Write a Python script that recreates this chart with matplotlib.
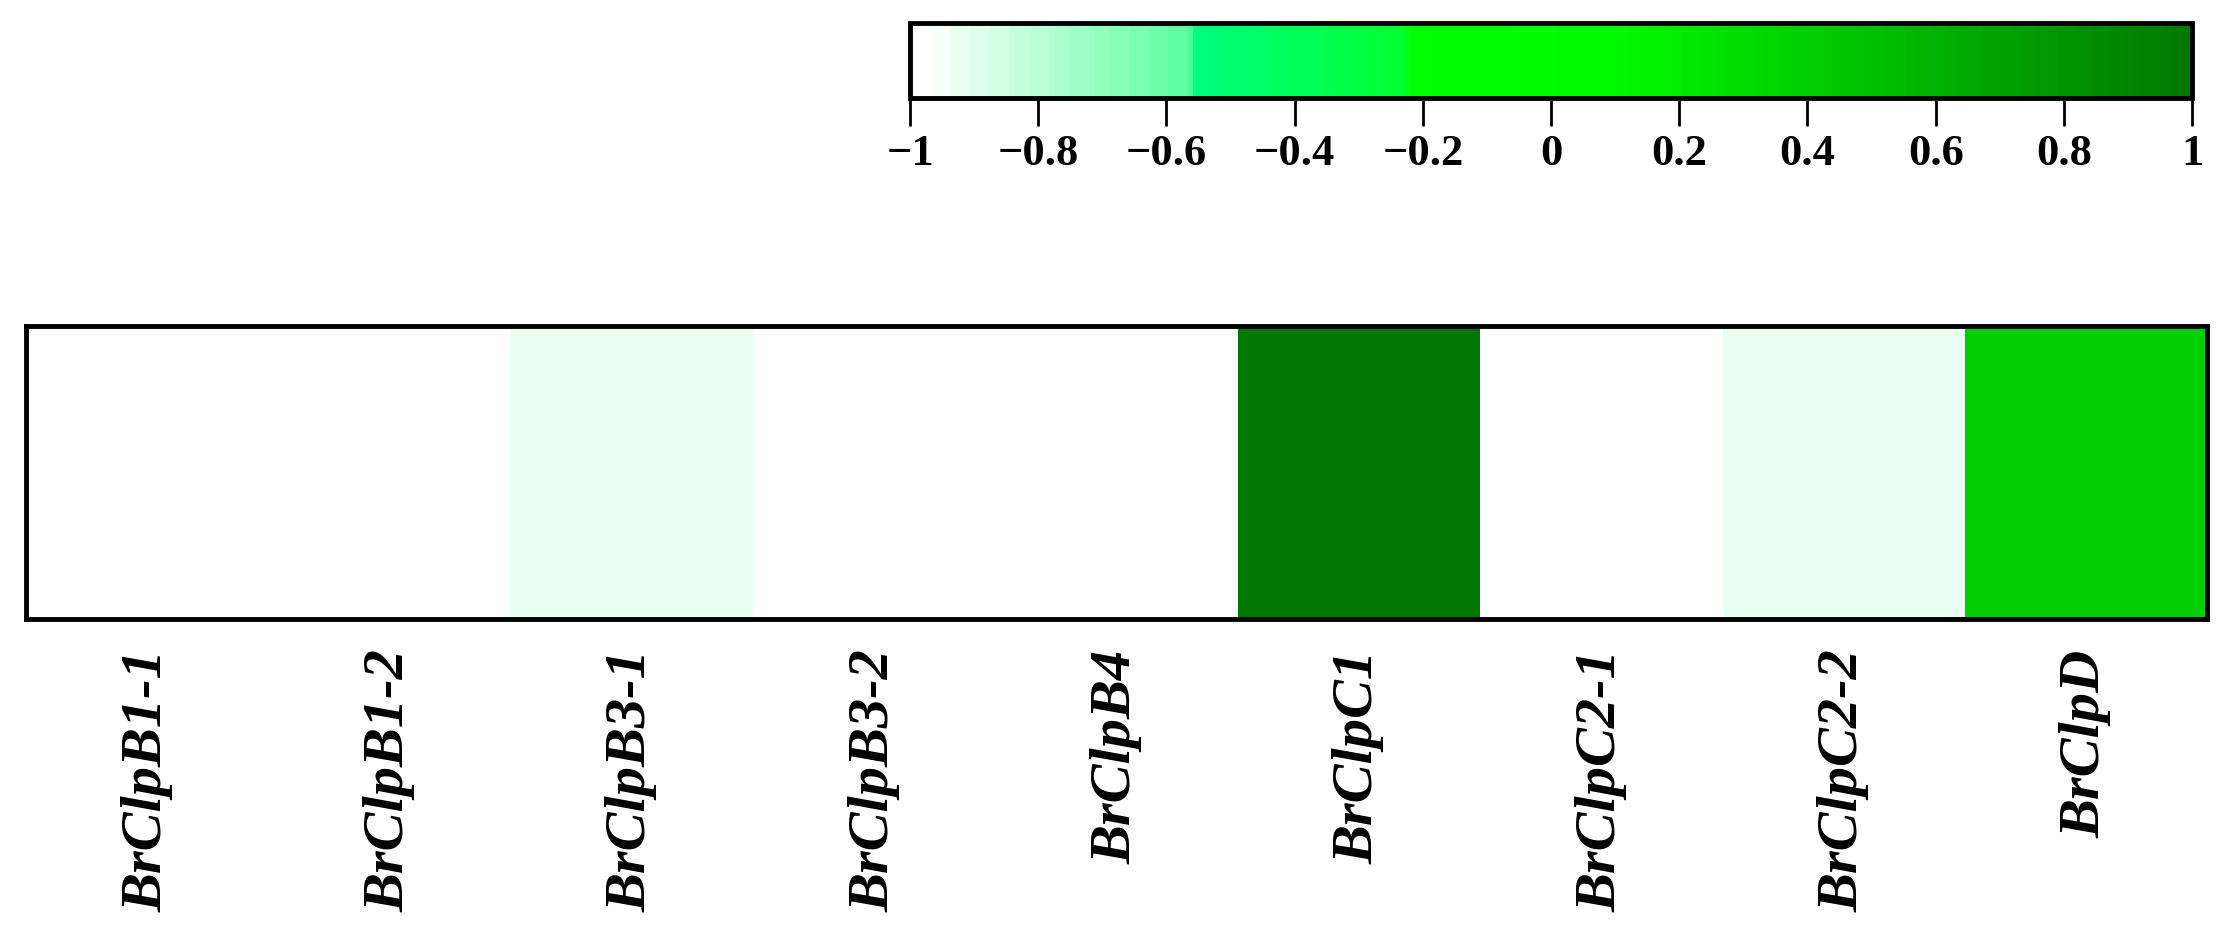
import numpy as np
import matplotlib.pyplot as plt
from matplotlib.colors import LinearSegmentedColormap, ListedColormap, Normalize

# genes and correlation values
genes = ['BrClpB1-1', 'BrClpB1-2', 'BrClpB3-1', 'BrClpB3-2', 'BrClpB4',
         'BrClpC1', 'BrClpC2-1', 'BrClpC2-2', 'BrClpD']
values = [-1.0, -1.0, -0.93, -1.0, -1.0, 1.0, -1.0, -0.93, 0.4]
cbar_ticks = [-1, -0.8, -0.6, -0.4, -0.2, 0, 0.2, 0.4, 0.6, 0.8, 1]

# colour stops of the scale (value, colour)
stops = [(-1.0, '#ffffff'), (-0.57, '#55ff9a'), (-0.56, '#00ff80'),
         (-0.23, '#00ff30'), (-0.22, '#00ff00'), (0.1, '#00fa00'),
         (1.0, '#007800')]

base = LinearSegmentedColormap.from_list(
    'grn', [((v + 1) / 2, c) for v, c in stops])

# the light end of the scale is drawn in steps
xs = np.linspace(-1, 1, 512)
q = np.where(xs < -0.56, np.floor((xs + 1) / 0.031) * 0.031 - 1, xs)
cmap = ListedColormap(base((q + 1) / 2))
norm = Normalize(-1, 1)

plt.rcParams['font.family'] = 'Liberation Serif'

fig = plt.figure(figsize=(22.35, 9.44), dpi=100)

ax = fig.add_axes([0.0116, 0.3443, 0.9759, 0.3104])
im = ax.imshow(np.array(values)[None, :], cmap=cmap, norm=norm,
               aspect='auto', interpolation='nearest')
ax.set_yticks([])
ax.set_xticks(range(len(genes)))
ax.set_xticklabels(genes, rotation=90, fontsize=42, fontweight='bold',
                   fontstyle='italic')
ax.tick_params(axis='x', length=0, pad=22)
for s in ax.spines.values():
    s.set_linewidth(3.5)

cax = fig.add_axes([0.4072, 0.896, 0.5736, 0.0795])
cb = fig.colorbar(im, cax=cax, orientation='horizontal')
cb.set_ticks(cbar_ticks)
cb.set_ticklabels([f'{t:g}'.replace('-', '\u2212') for t in cbar_ticks])
cb.outline.set_linewidth(3.5)
cax.tick_params(axis='x', length=20, width=2, pad=6, labelsize=32)
for lab in cax.get_xticklabels():
    lab.set_fontweight('bold')

fig.savefig('out.png', dpi=100)
